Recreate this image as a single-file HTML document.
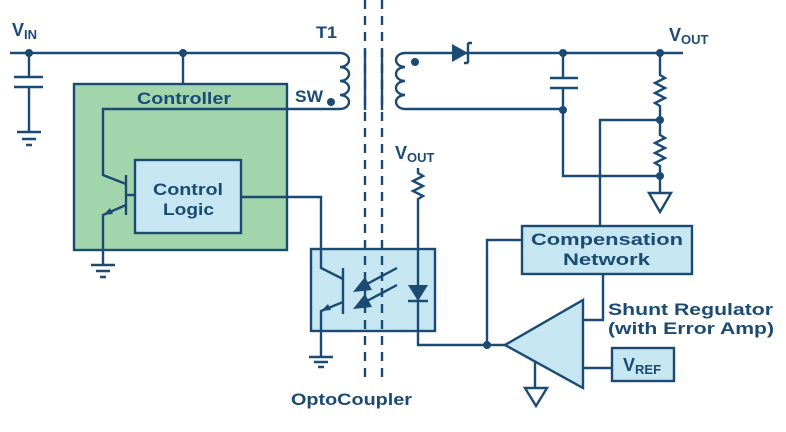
<!DOCTYPE html>
<html><head><style>
html,body{margin:0;padding:0;background:#fff;}
svg{display:block;}
text{font-family:"Liberation Sans",Arial,sans-serif;font-weight:bold;fill:#1b4a73;}
</style></head><body>
<svg width="786" height="432" viewBox="0 0 786 432" xmlns="http://www.w3.org/2000/svg">
<g stroke="#1b4a73" stroke-width="2.4" fill="none">
<rect x="74" y="84" width="213" height="166" fill="#a3d5ad"/>
<rect x="135" y="160" width="106" height="73" fill="#c6e7f1"/>
<rect x="311" y="249" width="124" height="82" fill="#c6e7f1"/>
<rect x="522" y="226" width="170" height="48" fill="#c6e7f1"/>
<rect x="612" y="348" width="62" height="33" fill="#c6e7f1"/>
<polygon points="505,345 583,300 583,388" fill="#c6e7f1"/>
<line x1="365" y1="0" x2="365" y2="380" stroke-dasharray="9,7"/>
<line x1="382" y1="0" x2="382" y2="380" stroke-dasharray="9,7"/>
<line x1="365" y1="50" x2="365" y2="110"/>
<line x1="382" y1="50" x2="382" y2="110"/>
<path d="M10,53 H340"/>
<path d="M340,53 a9,7 0 0 1 0,14 a9,7 0 0 1 0,14 a9,7 0 0 1 0,14 a9,7 0 0 1 0,14"/>
<path d="M340,109 H103 V175 L126,184"/>
<line x1="183" y1="53" x2="183" y2="84"/>
<path d="M29,53 V77 M14,77 H43 M14,87 H43 M29,87 V132 M17,132 H41 M22,139 H36 M26,145 H32"/>
<line x1="126" y1="175" x2="126" y2="215"/>
<line x1="126" y1="195" x2="135" y2="195"/>
<path d="M126,205 L103,215 V265 M91,265 H115 M96,271 H110 M100,277 H106"/>
<path d="M241,197 H321 V268 L343,279"/>
<line x1="343" y1="268" x2="343" y2="314"/>
<path d="M343,302 L321,311 V357 M309,357 H333 M314,362 H328 M318,367 H324"/>
<path d="M397,268 L365,285 M397,285 L365,302"/>
<path d="M405,53 a9,7 0 0 0 0,14 a9,7 0 0 0 0,14 a9,7 0 0 0 0,14 a9,7 0 0 0 0,14"/>
<path d="M405,53 H683"/>
<path d="M405,109 H563"/>
<path d="M468,43 V63 M468,43 h4 M468,63 h-4"/>
<path d="M563,53 V78 M550,78 H578 M550,88 H578 M563,88 V176 H660"/>
<path d="M660,53 V75 l5,3 l-10,5 l10,5 l-10,5 l10,5 l-10,5 l5,3 V135 l5,3 l-10,5 l10,5 l-10,5 l10,5 l-10,5 l5,3 V193"/>
<polygon points="649,193 671,193 660,212"/>
<path d="M600,226 V120 H660"/>
<path d="M418,168 v5 l5,3 l-10,5 l10,5 l-10,5 l10,5 l-5,3 V345 H505"/>
<path d="M408,301 H428"/>
<path d="M487,345 V240 H522"/>
<path d="M603,274 V320 H583"/>
<path d="M583,368 H612"/>
<path d="M535,362 V388"/>
<polygon points="525,388 547,388 536,406"/>
</g>
<g fill="#1b4a73">
<polygon points="408,285 428,285 418,301"/>
<polygon points="452,44 468,53 452,62"/>
<polygon points="353,292 365,277 372,290"/>
<polygon points="353,309 365,294 372,307"/>
<polygon points="103,215 110,208 113,214"/>
<polygon points="321,311 328,304 331,310"/>
<circle cx="29" cy="53" r="4"/><circle cx="183" cy="53" r="4"/>
<circle cx="331" cy="102" r="4"/><circle cx="415" cy="62" r="4"/>
<circle cx="563" cy="53" r="4"/><circle cx="563" cy="110" r="4"/>
<circle cx="660" cy="53" r="4"/><circle cx="660" cy="120" r="4"/>
<circle cx="660" cy="176" r="4"/><circle cx="487" cy="345" r="4"/>
</g>
<text x="12" y="36" font-size="18">V<tspan font-size="13" dy="3">IN</tspan></text>
<text x="316" y="38" font-size="17" textLength="21" lengthAdjust="spacingAndGlyphs">T1</text>
<text x="295" y="102" font-size="17" textLength="28" lengthAdjust="spacingAndGlyphs">SW</text>
<text x="137" y="104" font-size="17" textLength="94" lengthAdjust="spacingAndGlyphs">Controller</text>
<text x="153" y="195" font-size="17" textLength="70" lengthAdjust="spacingAndGlyphs">Control</text>
<text x="163" y="215" font-size="17" textLength="51" lengthAdjust="spacingAndGlyphs">Logic</text>
<text x="395" y="159" font-size="18">V<tspan font-size="13" dy="3">OUT</tspan></text>
<text x="669" y="41" font-size="18">V<tspan font-size="13" dy="3">OUT</tspan></text>
<text x="531" y="245" font-size="17" textLength="152" lengthAdjust="spacingAndGlyphs">Compensation</text>
<text x="563" y="265" font-size="17" textLength="87" lengthAdjust="spacingAndGlyphs">Network</text>
<text x="608" y="315" font-size="17" textLength="165" lengthAdjust="spacingAndGlyphs">Shunt Regulator</text>
<text x="608" y="334" font-size="17" textLength="166" lengthAdjust="spacingAndGlyphs">(with Error Amp)</text>
<text x="623" y="371" font-size="18">V<tspan font-size="13" dy="3">REF</tspan></text>
<text x="291" y="405" font-size="17" textLength="121" lengthAdjust="spacingAndGlyphs">OptoCoupler</text>
</svg>
</body></html>
